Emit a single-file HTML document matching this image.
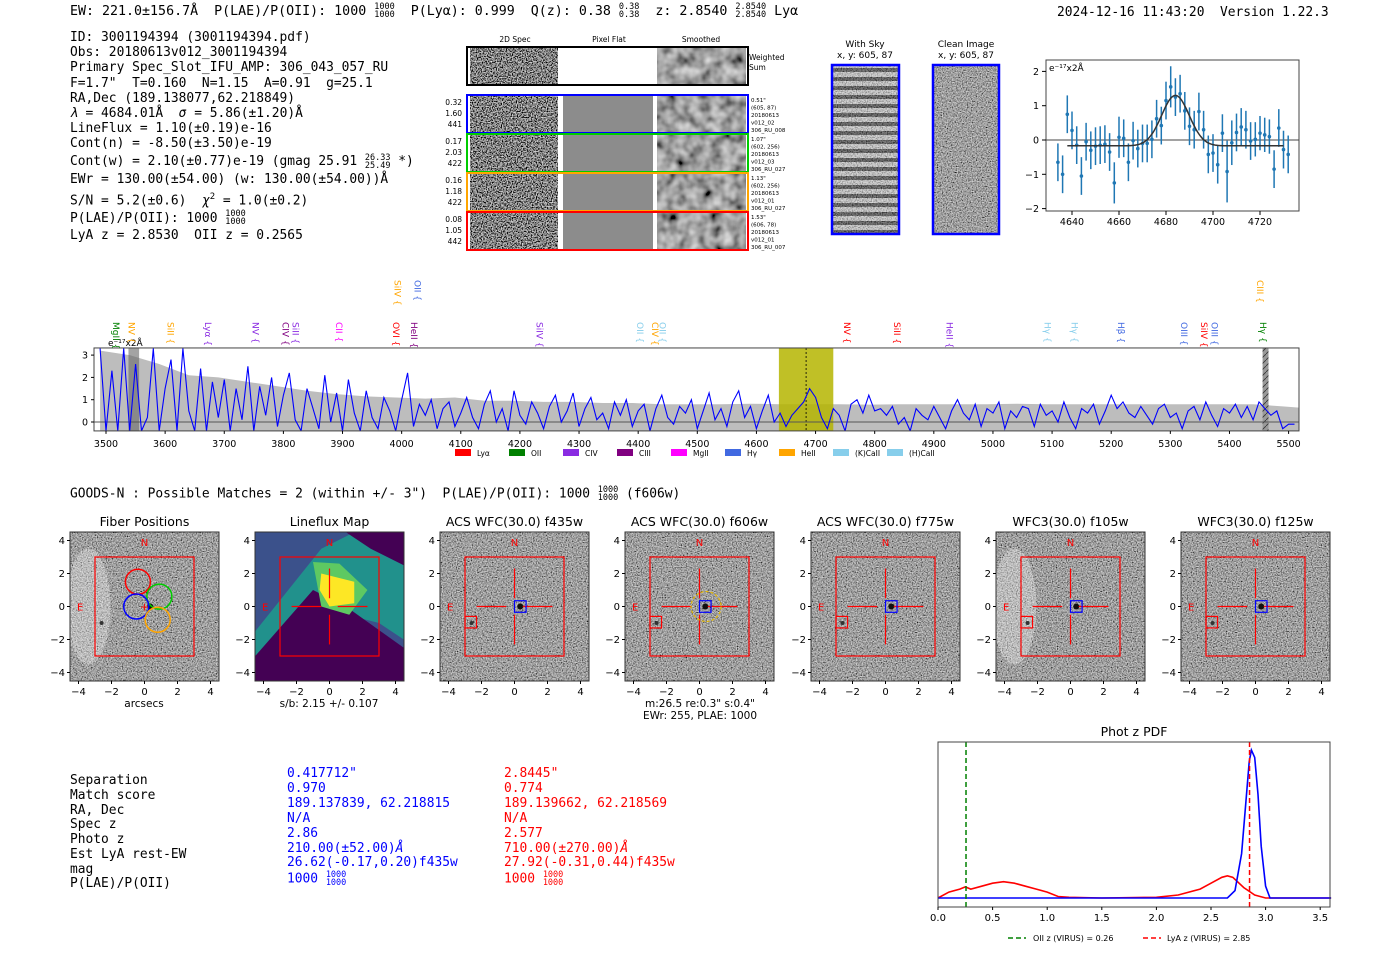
<!DOCTYPE html>
<html><head><meta charset="utf-8">
<style>
body{margin:0;width:1400px;height:953px;background:#fff;position:relative;overflow:hidden;font-family:"DejaVu Sans","Liberation Sans",sans-serif;}
.m{position:absolute;font-family:"DejaVu Sans Mono","Liberation Mono",monospace;font-size:12.9px;white-space:pre;line-height:15px;color:#000;}
.fr{display:inline-flex;flex-direction:column;font-size:8.5px;line-height:8px;vertical-align:middle;text-align:left;}
svg{position:absolute;left:0;top:0;}
</style></head><body>
<svg id="s" width="1400" height="953">
<defs>
<filter id="nz" x="0" y="0" width="100%" height="100%"><feTurbulence type="fractalNoise" baseFrequency="0.8" numOctaves="1" seed="4"/><feColorMatrix type="saturate" values="0"/><feComponentTransfer><feFuncR type="linear" slope="2.6" intercept="-1.05"/><feFuncG type="linear" slope="2.6" intercept="-1.05"/><feFuncB type="linear" slope="2.6" intercept="-1.05"/><feFuncA type="linear" slope="0" intercept="1"/></feComponentTransfer></filter>
<filter id="nzs" x="0" y="0" width="100%" height="100%"><feTurbulence type="fractalNoise" baseFrequency="0.09" numOctaves="2" seed="7"/><feColorMatrix type="saturate" values="0"/><feComponentTransfer><feFuncR type="linear" slope="1.3" intercept="-0.3"/><feFuncG type="linear" slope="1.3" intercept="-0.3"/><feFuncB type="linear" slope="1.3" intercept="-0.3"/><feFuncA type="linear" slope="0" intercept="1"/></feComponentTransfer></filter>
<filter id="nzc" x="0" y="0" width="100%" height="100%"><feTurbulence type="fractalNoise" baseFrequency="0.8" numOctaves="1" seed="2"/><feColorMatrix type="saturate" values="0"/><feComponentTransfer><feFuncR type="linear" slope="1.6" intercept="-0.45"/><feFuncG type="linear" slope="1.6" intercept="-0.45"/><feFuncB type="linear" slope="1.6" intercept="-0.45"/><feFuncA type="linear" slope="0" intercept="1"/></feComponentTransfer></filter>
<pattern id="stripes" width="10" height="9" patternUnits="userSpaceOnUse"><rect width="10" height="9" fill="#ddd"/><rect y="5" width="10" height="4" fill="#555"/></pattern>
<pattern id="hatch" width="6" height="6" patternUnits="userSpaceOnUse"><rect width="6" height="6" fill="#999"/><path d="M0 6L6 0" stroke="#333" stroke-width="0.8"/></pattern>
<clipPath id="specclip"><rect x="94" y="348" width="1205" height="83"/></clipPath>
</defs>
</svg>

<div class="m" style="left:70px;top:3px;font-size:13.3px">EW: 221.0±156.7Å  P(LAE)/P(OII): 1000 <span class="fr"><span>1000</span><span>1000</span></span>  P(Lyα): 0.999  Q(z): 0.38 <span class="fr"><span>0.38</span><span>0.38</span></span>  z: 2.8540 <span class="fr"><span>2.8540</span><span>2.8540</span></span> Lyα</div>
<div class="m" style="left:1057px;top:5px">2024-12-16 11:43:20  Version 1.22.3</div>

<div class="m" style="left:70px;top:30px;line-height:15.2px">ID: 3001194394 (3001194394.pdf)
Obs: 20180613v012_3001194394
Primary Spec_Slot_IFU_AMP: 306_043_057_RU
F=1.7"  T=0.160  N=1.15  A=0.91  g=25.1
RA,Dec (189.138077,62.218849)
<i>λ</i> = 4684.01Å  <i>σ</i> = 5.86(±1.20)Å
LineFlux = 1.10(±0.19)e-16
Cont(n) = -8.50(±3.50)e-19</div>
<div class="m" style="left:70px;top:153px;line-height:17.8px">Cont(w) = 2.10(±0.77)e-19 (gmag 25.91 <span class="fr"><span>26.33</span><span>25.49</span></span> *)
EWr = 130.00(±54.00) (w: 130.00(±54.00))Å
S/N = 5.2(±0.6)  <i>χ</i><sup style="font-size:9px">2</sup> = 1.0(±0.2)
P(LAE)/P(OII): 1000 <span class="fr"><span>1000</span><span>1000</span></span>
LyA z = 2.8530  OII z = 0.2565</div>

<div class="m" style="left:70px;top:486px">GOODS-N : Possible Matches = 2 (within +/- 3")  P(LAE)/P(OII): 1000 <span class="fr"><span>1000</span><span>1000</span></span> (f606w)</div>

<div class="m" style="left:70px;top:774px;line-height:14.75px">Separation
Match score
RA, Dec
Spec z
Photo z
Est LyA rest-EW
mag
P(LAE)/P(OII)</div>
<div class="m" style="left:287px;top:767px;line-height:14.9px;color:#00f">0.417712"
0.970
189.137839, 62.218815
N/A
2.86
210.00(±52.00)<i>Å</i>
26.62(-0.17,0.20)f435w
1000 <span class="fr"><span>1000</span><span>1000</span></span></div>
<div class="m" style="left:504px;top:767px;line-height:14.9px;color:#f00">2.8445"
0.774
189.139662, 62.218569
N/A
2.577
710.00(±270.00)<i>Å</i>
27.92(-0.31,0.44)f435w
1000 <span class="fr"><span>1000</span><span>1000</span></span></div>

<script>
// ---------- data ----------
const specStart = 3490, specStep = 10;
const specFlux = [3.3,-0.4,2.3,-0.4,3.3,-0.4,2.6,-0.4,0.2,3.3,-0.4,1.5,2.8,-0.4,3.3,0.5,-0.4,2.4,-0.4,1.8,0.2,
1.9,-0.4,1.5,0.1,2.5,-0.4,1.6,0.3,2.0,-0.2,1.2,2.2,0.1,-0.4,1.5,0.6,-0.3,2.1,0.0,1.3,-0.4,1.9,0.4,-0.4,1.4,0.2,-0.3,1.1,0.5,-0.4,
1.0,2.2,-0.2,0.8,0.3,1.0,-0.3,0.6,0.9,-0.2,0.4,1.1,0.2,-0.3,0.8,1.4,0.0,0.6,-0.4,1.4,0.3,-0.1,0.9,0.4,-0.3,0.7,1.2,0.0,0.5,1.3,
-0.2,0.6,1.1,0.1,0.4,-0.3,0.9,0.3,1.0,-0.2,0.5,0.8,-0.4,0.6,1.2,0.2,-0.1,0.7,0.4,1.0,-0.3,0.5,1.3,0.1,0.6,-0.2,0.9,1.4,0.2,0.7,
-0.3,0.5,1.2,0.0,0.4,-0.2,0.3,0.6,0.9,1.5,1.1,0.2,-0.3,0.6,0.3,-0.4,0.8,1.0,0.4,1.2,0.5,0.6,0.3,0.7,-0.1,0.2,-0.4,0.6,0.3,0.1,
0.7,0.2,-0.3,0.5,1.0,0.4,0.1,0.8,-0.2,0.6,0.4,0.9,-0.3,0.5,0.2,0.7,0.6,-0.2,0.8,0.3,0.5,0.0,0.9,0.2,-0.3,0.6,0.4,0.8,-0.1,0.5,
1.2,0.6,0.9,0.4,0.2,0.7,0.3,-0.1,0.6,0.8,0.2,0.4,-0.3,0.5,0.7,0.1,0.9,0.3,-0.2,0.6,0.4,0.8,0.2,0.7,0.1,0.9,0.6,0.3,0.5,-0.3,-0.1,-0.1];
const errStart = 3490, errStep = 50;
const specErr = [3.2,3.0,2.6,2.1,2.0,1.8,1.6,1.4,1.25,1.15,1.1,1.05,1.1,0.95,0.95,0.9,0.9,0.85,0.85,0.8,0.8,0.8,0.82,0.8,0.8,0.8,0.78,0.8,0.8,0.8,0.8,0.82,0.8,0.8,0.8,0.8,0.8,0.8,0.8,0.8,0.7,0.6];
const specTicks = [3500,3600,3700,3800,3900,4000,4100,4200,4300,4400,4500,4600,4700,4800,4900,5000,5100,5200,5300,5400,5500];
const specYTicks = [0,1,2,3];
const lineNames = ["MgII","NV","SiII","Lyα","NV","CIV","SiII","CII","OVI","HeII","SiIV","OII","SiIV","OII","CIV","OII","NV","SiII","HeII","Hγ","Hγ","Hβ","OIII","SiIV","OIII","Hγ","CIII"];
const lineWaves = [3516,3542,3608,3672,3752,3803,3820,3893,3990,4020,3992,4026,4232,4402,4428,4440,4752,4837,4926,5091,5137,5216,5322,5356,5374,5456,5451];
const lineColors = ["green","orange","orange","blueviolet","blueviolet","purple","blueviolet","magenta","red","purple","orange","royalblue","blueviolet","skyblue","orange","skyblue","red","red","blueviolet","skyblue","skyblue","royalblue","royalblue","red","royalblue","green","orange"];
const lineUpper = [0,0,0,0,0,0,0,0,0,0,1,1,0,0,0,0,0,0,0,0,0,0,0,0,0,0,1];
const legendNames = ["Lyα","OII","CIV","CIII","MgII","Hγ","HeII","(K)CaII","(H)CaII"];
const legendColors = ["red","green","blueviolet","purple","magenta","royalblue","orange","skyblue","skyblue"];

const zoomWave = [4634,4636,4638,4640,4642,4644,4646,4648,4650,4652,4654,4656,4658,4660,4662,4664,4666,4668,4670,4672,4674,4676,4678,4680,4682,4684,4686,4688,4690,4692,4694,4696,4698,4700,4702,4704,4706,4708,4710,4712,4714,4716,4718,4720,4722,4724,4726,4728,4730,4732];
const zoomFlux = [-0.65,-1.0,0.75,0.28,-0.15,-1.05,-0.05,-0.3,-0.18,-0.15,-0.12,-0.35,-1.25,0.08,0.05,-0.65,-0.02,-0.25,-0.1,-0.1,0.02,0.62,0.42,1.15,1.55,1.25,1.35,0.85,0.4,0.3,0.83,0.3,-0.42,-0.38,-0.72,0.2,-0.92,-0.08,0.22,0.38,0.3,-0.03,0.02,0.2,0.15,0.1,-0.85,0.35,-0.28,-0.42];
const zoomErr = [0.55,0.55,0.55,0.55,0.55,0.55,0.55,0.55,0.55,0.55,0.55,0.55,0.6,0.6,0.55,0.55,0.55,0.55,0.55,0.55,0.55,0.55,0.55,0.55,0.6,0.55,0.55,0.55,0.55,0.55,0.55,0.55,0.55,0.55,0.55,0.55,0.9,0.65,0.55,0.55,0.55,0.55,0.5,0.5,0.5,0.5,0.55,0.55,0.55,0.55];
const fitParams = [4684.01, 1.47, 5.86, -0.17];
const zoomXTicks = [4640,4660,4680,4700,4720];
const zoomYTicks = [-2,-1,0,1,2];

const pdfZ = [0,0.1,0.2,0.25,0.3,0.4,0.5,0.6,0.7,0.8,0.9,1.0,1.1,1.2,1.5,2.0,2.2,2.4,2.5,2.6,2.65,2.7,2.8,2.9,3.0,3.6];
const pdfRed = [0,0.04,0.06,0.075,0.06,0.08,0.10,0.11,0.10,0.08,0.06,0.04,0.01,0.005,0,0.005,0.02,0.06,0.10,0.14,0.15,0.14,0.07,0.02,0,0];
const pdfBlueZ = [0,2.65,2.72,2.78,2.82,2.85,2.87,2.9,2.93,2.96,3.0,3.04,3.6];
const pdfBlue = [0,0,0.05,0.3,0.65,0.92,1.0,0.95,0.7,0.35,0.08,0,0];
const pdfTicks = [0,0.5,1.0,1.5,2.0,2.5,3.0,3.5];

const cutTitles = ["Fiber Positions","Lineflux Map","ACS WFC(30.0) f435w","ACS WFC(30.0) f606w","ACS WFC(30.0) f775w","WFC3(30.0) f105w","WFC3(30.0) f125w"];
const cutTicks = [-4,-2,0,2,4];

// ---------- helpers ----------
const S = document.getElementById('s');
const NS = 'http://www.w3.org/2000/svg';
function mk(tag, a, p){const e=document.createElementNS(NS,tag);for(const k in a)e.setAttribute(k,a[k]);(p||S).appendChild(e);return e;}
function txt(x,y,t,a,p){const e=mk('text',Object.assign({x:x,y:y,'font-size':10,'font-family':'DejaVu Sans, Liberation Sans, sans-serif'},a),p);e.textContent=t;return e;}

// ---------- 2D spectra panel ----------
txt(515,42,'2D Spec',{'font-size':7.5,'text-anchor':'middle'});
txt(609,42,'Pixel Flat',{'font-size':7.5,'text-anchor':'middle'});
txt(701,42,'Smoothed',{'font-size':7.5,'text-anchor':'middle'});
const rowY=[47,95,134,173,212], rowC=['#000','#00f','#0c0','orange','red'];
const rowL=[null,['0.32','1.60','441'],['0.17','2.03','422'],['0.16','1.18','422'],['0.08','1.05','442']];
const rowR=[null,['0.51"','(605, 87)','20180613','v012_02','306_RU_008'],['1.07"','(602, 256)','20180613','v012_03','306_RU_027'],['1.13"','(602, 256)','20180613','v012_01','306_RU_027'],['1.53"','(606, 78)','20180613','v012_01','306_RU_007']];
for(let i=0;i<5;i++){
  const y=rowY[i], h=38;
  let e=mk('rect',{x:470,y:y+1,width:88,height:h-2,filter:'url(#nz)'});
  
  
  e=mk('rect',{x:563,y:y+1,width:90,height:h-2,fill:i==0?'#fff':'#8c8c8c'});
  
  
  e=mk('rect',{x:657,y:y+1,width:89,height:h-2,filter:'url(#nzs)'});
  
  
  e=mk('rect',{x:467,y:y,width:281,height:h,fill:'none',stroke:rowC[i],'stroke-width':2});
  
  
  if(rowL[i]) rowL[i].forEach((t,k)=>txt(462,y+10+k*11,t,{'font-size':7.5,'text-anchor':'end'}));
  if(rowR[i]) rowR[i].forEach((t,k)=>txt(751,y+7+k*7.5,t,{'font-size':5.5}));
}
txt(749,60,'Weighted',{'font-size':7.5});txt(749,70,'Sum',{'font-size':7.5});

// with sky / clean image
txt(865,47,'With Sky',{'font-size':9,'text-anchor':'middle'});txt(865,58,'x, y: 605, 87',{'font-size':9,'text-anchor':'middle'});
txt(966,47,'Clean Image',{'font-size':9,'text-anchor':'middle'});txt(966,58,'x, y: 605, 87',{'font-size':9,'text-anchor':'middle'});
let w=mk('rect',{x:832,y:65,width:67,height:169,fill:'url(#stripes)'});


mk('rect',{x:832,y:65,width:67,height:169,filter:'url(#nz)',opacity:0.35});
w=mk('rect',{x:933,y:65,width:66,height:169,filter:'url(#nzc)'});


mk('rect',{x:832,y:65,width:67,height:169,fill:'none',stroke:'#00f','stroke-width':2.5});
mk('rect',{x:933,y:65,width:66,height:169,fill:'none',stroke:'#00f','stroke-width':2.5});

// ---------- zoom line fit plot ----------
const zx=v=>1072+(v-4640)*2.35, zy=v=>140-v*34.3;
mk('rect',{x:1046,y:60,width:253,height:151,fill:'none',stroke:'#444'});
txt(1049,71,'e⁻¹⁷x2Å',{'font-size':9});
mk('line',{x1:1046,x2:1299,y1:zy(0),y2:zy(0),stroke:'#444','stroke-width':1});
zoomXTicks.forEach(t=>{mk('line',{x1:zx(t),x2:zx(t),y1:211,y2:215,stroke:'#000'});txt(zx(t),225,String(t),{'font-size':9.5,'text-anchor':'middle'});});
zoomYTicks.forEach(t=>{mk('line',{x1:1042,x2:1046,y1:zy(t),y2:zy(t),stroke:'#000'});txt(1039,zy(t)+3.5,t<0?'−'+(-t):String(t),{'font-size':9.5,'text-anchor':'end'});});
zoomWave.forEach((wv,i)=>{
  const e=mk('line',{x1:zx(wv),x2:zx(wv),y1:zy(zoomFlux[i]-zoomErr[i]),y2:zy(zoomFlux[i]+zoomErr[i]),stroke:'#1f77b4','stroke-width':1.5});
  
  
  const c=mk('circle',{cx:zx(wv),cy:zy(zoomFlux[i]),r:1.8,fill:'#1f77b4'});
  
  
});
{let d='';for(let wv=4638;wv<=4730;wv+=0.5){const f=fitParams[3]+fitParams[1]*Math.exp(-0.5*Math.pow((wv-fitParams[0])/fitParams[2],2));d+=(d?'L':'M')+zx(wv).toFixed(1)+' '+zy(f).toFixed(1);}
const e=mk('path',{d:d,fill:'none',stroke:'#333','stroke-width':1.5});

}

// ---------- full spectrum ----------
const sx=v=>106+(v-3500)*0.5913, sy=v=>422-v*22.3;
const yb=sy(-0.4), yt=sy(3.32);
const SG=mk('g',{'clip-path':'url(#specclip)'});
{let d='M'+sx(errStart)+' '+yb;specErr.forEach((v,i)=>{d+='L'+sx(errStart+i*errStep).toFixed(1)+' '+sy(Math.min(v,3.32)).toFixed(1);});d+='L'+sx(errStart+(specErr.length-1)*errStep)+' '+yb+'Z';
const e=mk('path',{d:d,fill:'#bdbdbd'},SG);

}
let yl=mk('rect',{x:sx(4638),y:yt,width:sx(4730)-sx(4638),height:yb-yt,fill:'#b5b500',opacity:0.85},SG);


mk('line',{x1:sx(4684),x2:sx(4684),y1:yt,y2:yb,stroke:'#000','stroke-dasharray':'2,2','stroke-width':0.8},SG);
mk('rect',{x:sx(3538),y:yt,width:sx(3556)-sx(3538),height:yb-yt,fill:'#666',opacity:0.6},SG);
mk('rect',{x:sx(5456),y:yt,width:sx(5466)-sx(5456),height:yb-yt,fill:'url(#hatch)'},SG);
mk('line',{x1:94,x2:1299,y1:sy(0),y2:sy(0),stroke:'#555','stroke-width':1},SG);
{let d='';specFlux.forEach((v,i)=>{const c=Math.max(-0.4,Math.min(3.32,v));d+=(i?'L':'M')+sx(specStart+i*specStep).toFixed(1)+' '+sy(c).toFixed(1);});
const e=mk('path',{d:d,fill:'none',stroke:'#00f','stroke-width':1.1},SG);

}
mk('rect',{x:94,y:yt,width:1205,height:yb-yt,fill:'none',stroke:'#444'});
txt(108,346,'e⁻¹⁷x2Å',{'font-size':9});
specTicks.forEach(t=>{mk('line',{x1:sx(t),x2:sx(t),y1:yb,y2:yb+3,stroke:'#000'});txt(sx(t),447,String(t),{'font-size':9.5,'text-anchor':'middle'});});
specYTicks.forEach(t=>{mk('line',{x1:91,x2:94,y1:sy(t),y2:sy(t),stroke:'#000'});txt(88,sy(t)+3.5,String(t),{'font-size':9.5,'text-anchor':'end'});});
lineNames.forEach((n,i)=>{
  const x=sx(lineWaves[i]), y=lineUpper[i]?280:322;
  const e=txt(x,y,n+' {',{'font-size':9,fill:lineColors[i],transform:'rotate(90 '+x+' '+y+')','dominant-baseline':'middle'});
  
  
});
legendNames.forEach((n,i)=>{
  const x=455+i*54;
  const r=mk('rect',{x:x,y:449,width:16,height:7,fill:legendColors[i]});
  
  
  txt(x+22,456,n,{'font-size':7.5});
});

// ---------- cutouts ----------
const cutL=[70,255,440,625,811,996,1181], cT=532, cW=149;
cutTitles.forEach((t,i)=>{
  const L=cutL[i], cx=v=>L+cW/2+v*16.5, cy=v=>cT+cW/2-v*16.5;
  txt(L+cW/2,526,t,{'font-size':12.5,'text-anchor':'middle'});
  let g;
  if(i==1){
    g=mk('rect',{x:L,y:cT,width:cW,height:cW,fill:'#3b518b'});
    mk('polygon',{points:[cx(-4.5),cy(-1.5),cx(-0.5),cy(3.5),cx(1.5),cy(4.5),cx(4.5),cy(3),cx(4.5),cy(-2),cx(3),cy(-1),cx(1),cy(-0.5),cx(-2.5),cy(-4.5),cx(-4.5),cy(-4.5)].join(' '),fill:'#21918c'});
    mk('polygon',{points:[cx(-4.5),cy(-3),cx(-1),cy(1),cx(1),cy(0),cx(4.5),cy(-2.5),cx(4.5),cy(-4.5),cx(-4.5),cy(-4.5)].join(' '),fill:'#440154'});
    mk('polygon',{points:[cx(1),cy(4.5),cx(4.5),cy(4.5),cx(4.5),cy(2.5),cx(2.5),cy(3.5)].join(' '),fill:'#440154'});
    mk('polygon',{points:[cx(-1),cy(2.7),cx(0.6),cy(2.6),cx(2.3),cy(1),cx(1.2),cy(-0.5),cx(-0.5),cy(0)].join(' '),fill:'#5ec962'});
    mk('polygon',{points:[cx(-0.5),cy(2),cx(1.5),cy(1.5),cx(1.5),cy(0.2),cx(0),cy(0),cx(-0.6),cy(1)].join(' '),fill:'#fde725'});
  } else {
    g=mk('rect',{x:L,y:cT,width:cW,height:cW,filter:'url(#nzc)'});
    if(i==0||i==5){mk('ellipse',{cx:cx(-3.4),cy:cy(0),rx:22,ry:58,fill:'#fff',opacity:0.3});}
    mk('circle',{cx:cx(0.35),cy:cy(0),r:3,fill:'#111'});
    mk('circle',{cx:cx(-2.6),cy:cy(-1),r:2,fill:'#333'});
  }
  
  
  mk('rect',{x:L,y:cT,width:cW,height:cW,fill:'none',stroke:'#333'});
  mk('rect',{x:cx(-3),y:cy(3),width:cx(3)-cx(-3),height:cy(-3)-cy(3),fill:'none',stroke:'red','stroke-width':1.2});
  txt(cx(0),cy(3.9)+4,'N',{fill:'red','font-size':10,'text-anchor':'middle'});
  txt(cx(-3.9),cy(0)+4,'E',{fill:'red','font-size':10,'text-anchor':'middle'});
  if(i>0){
    [[-2.3,-0.5],[0.5,2.3]].forEach(a=>mk('line',{x1:cx(a[0]),x2:cx(a[1]),y1:cy(0),y2:cy(0),stroke:'red','stroke-width':1.2}));
    [[0.5,2.3],[-2.3,-0.5]].forEach(a=>mk('line',{x1:cx(0),x2:cx(0),y1:cy(a[0]),y2:cy(a[1]),stroke:'red','stroke-width':1.2}));
  }
  if(i>1){
    mk('rect',{x:cx(0),y:cy(0.35),width:cx(0.7)-cx(0),height:cy(-0.35)-cy(0.35),fill:'none',stroke:'#00f','stroke-width':1.2});
    mk('rect',{x:cx(-3),y:cy(-0.6),width:cx(-2.3)-cx(-3),height:cy(-1.3)-cy(-0.6),fill:'none',stroke:'red','stroke-width':1.2});
  }
  if(i==3) mk('circle',{cx:cx(0.4),cy:cy(0),r:15,fill:'none',stroke:'#e6b800','stroke-width':1.2,'stroke-dasharray':'3,2'});
  if(i==0){
    [[-0.4,1.5,'red'],[0.9,0.6,'#0c0'],[-0.5,0,'#00f'],[0.8,-0.8,'orange']].forEach(c=>mk('circle',{cx:cx(c[0]),cy:cy(c[1]),r:12.5,fill:'none',stroke:c[2],'stroke-width':1.5}));
    txt(cx(0),cy(0)+4,'+',{fill:'red','font-size':11,'text-anchor':'middle'});
  }
  cutTicks.forEach(t=>{
    const lab=t<0?'−'+(-t):String(t);
    mk('line',{x1:cx(t),x2:cx(t),y1:cT+cW,y2:cT+cW+3,stroke:'#000'});
    txt(cx(t),cT+cW+14,lab,{'font-size':10,'text-anchor':'middle'});
    mk('line',{x1:L-3,x2:L,y1:cy(t),y2:cy(t),stroke:'#000'});
    txt(L-5,cy(t)+3.5,lab,{'font-size':10,'text-anchor':'end'});
  });
});
txt(144,707,'arcsecs',{'font-size':10.5,'text-anchor':'middle'});
txt(329,707,'s/b: 2.15 +/- 0.107',{'font-size':10.5,'text-anchor':'middle'});
txt(700,707,'m:26.5  re:0.3"  s:0.4"',{'font-size':10.5,'text-anchor':'middle'});
txt(700,719,'EWr: 255, PLAE: 1000',{'font-size':10.5,'text-anchor':'middle'});

// ---------- photo-z PDF ----------
const px=v=>938+v*109.2, py=v=>898-v*148;
txt(1134,736,'Phot z PDF',{'font-size':12.5,'text-anchor':'middle'});
{let d='';pdfZ.forEach((z,i)=>{d+=(i?'L':'M')+px(z).toFixed(1)+' '+py(pdfRed[i]).toFixed(1);});
const e=mk('path',{d:d,fill:'none',stroke:'red','stroke-width':1.6});

}
{let d='';pdfBlueZ.forEach((z,i)=>{d+=(i?'L':'M')+px(z).toFixed(1)+' '+py(pdfBlue[i]).toFixed(1);});
const e=mk('path',{d:d,fill:'none',stroke:'#00f','stroke-width':1.6});

}
let v1=mk('line',{x1:px(0.2565),x2:px(0.2565),y1:742,y2:907,stroke:'green','stroke-width':1.5,'stroke-dasharray':'5,3'});


let v2=mk('line',{x1:px(2.853),x2:px(2.853),y1:742,y2:907,stroke:'red','stroke-width':1.5,'stroke-dasharray':'5,3'});


mk('rect',{x:938,y:742,width:392,height:165,fill:'none',stroke:'#444'});
pdfTicks.forEach(t=>{mk('line',{x1:px(t),x2:px(t),y1:907,y2:910,stroke:'#000'});txt(px(t),921,t.toFixed(1),{'font-size':10,'text-anchor':'middle'});});
mk('line',{x1:1008,x2:1026,y1:938,y2:938,stroke:'green','stroke-width':1.5,'stroke-dasharray':'5,3'});
txt(1033,941,'OII z (VIRUS) = 0.26',{'font-size':8});
mk('line',{x1:1143,x2:1161,y1:938,y2:938,stroke:'red','stroke-width':1.5,'stroke-dasharray':'5,3'});
txt(1167,941,'LyA z (VIRUS) = 2.85',{'font-size':8});
</script>
</body></html>
